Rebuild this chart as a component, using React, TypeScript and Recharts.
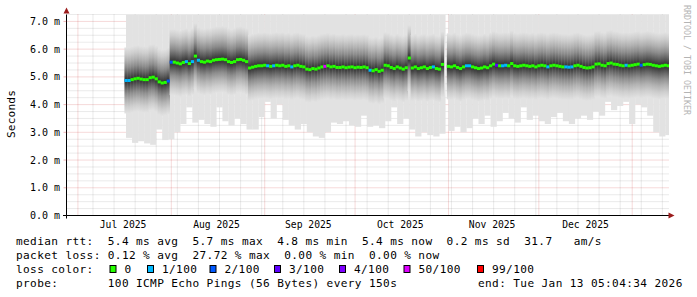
import React from "react";
import { ComposedChart, XAxis, YAxis, Scatter, ReferenceLine } from "recharts";

// SmokePing style latency graph: grey "smoke" = spread of the 100 pings,
// coloured blocks = median rtt, coloured by packet loss.
// x = days since 1 Jul 2025 00:00 (window ends Tue Jan 13 05:04:34 2026)

const FONT = "'DejaVu Sans Mono', 'Liberation Mono', monospace";

const X_FROM = -3.79;
const X_TO = 196.21;
const Y_TOP = 7.25;

const monthStarts = [0, 31, 62, 92, 123, 153, 184];
const weekStarts = [5, 12, 19, 26, 33, 40, 47, 54, 61, 68, 75, 82, 89, 96, 103, 110, 117, 124, 131, 138, 145, 152, 159, 166, 173, 180, 187, 194];
const monthTicks = [15, 46, 76.5, 107, 137.5, 168.5];
const monthLabels = ["Jul 2025", "Aug 2025", "Sep 2025", "Oct 2025", "Nov 2025", "Dec 2025"];

const yTicks = [0, 1, 2, 3, 4, 5, 6, 7];
const yMajorGrid = [1, 2, 3, 4, 5, 6, 7];
const yMinorGrid = [0.25, 0.5, 0.75, 1.25, 1.5, 1.75, 2.25, 2.5, 2.75, 3.25, 3.5, 3.75, 4.25, 4.5, 4.75, 5.25, 5.5, 5.75, 6.25, 6.5, 6.75, 7.25];

// median rtt (ms), one reading per day
const rttDays = [
  16, 17, 18, 19, 20, 21, 22, 23, 24, 25,
  26, 27, 28, 29, 30, 31, 32, 33, 34, 35,
  36, 37, 38, 39, 40, 41, 42, 43, 44, 45,
  46, 47, 48, 49, 50, 51, 52, 53, 54, 55,
  56, 57, 58, 59, 60, 61, 62, 63, 64, 65,
  66, 67, 68, 69, 70, 71, 72, 73, 74, 75,
  76, 77, 78, 79, 80, 81, 82, 83, 84, 85,
  86, 87, 88, 89, 90, 91, 92, 93, 94, 95,
  96, 97, 98, 99, 100, 101, 102, 103, 104, 105,
  106, 107, 108, 109, 110, 111, 112, 113, 114, 115,
  116, 117, 118, 119, 120, 121, 122, 123, 124, 125,
  126, 127, 128, 129, 130, 131, 132, 133, 134, 135,
  136, 137, 138, 139, 140, 141, 142, 143, 144, 145,
  146, 147, 148, 149, 150, 151, 152, 153, 154, 155,
  156, 157, 158, 159, 160, 161, 162, 163, 164, 165,
  166, 167, 168, 169, 170, 171, 172, 173, 174, 175,
  176, 177, 178, 179, 180, 181, 182, 183, 184, 185,
  186, 187, 188, 189, 190, 191, 192, 193, 194, 195,
  196,
];
const rttValues = [
  4.87, 4.87, 4.90, 4.93, 4.95, 4.92, 4.90, 4.90, 4.97, 4.99,
  4.93, 4.82, 4.78, 4.80, 4.85, 5.53, 5.53, 5.50, 5.47, 5.52,
  5.55, 5.48, 5.55, 5.75, 5.60, 5.55, 5.53, 5.57, 5.55, 5.60,
  5.62, 5.63, 5.64, 5.62, 5.55, 5.52, 5.55, 5.62, 5.63, 5.60,
  5.55, 5.32, 5.35, 5.38, 5.40, 5.40, 5.42, 5.40, 5.38, 5.40,
  5.42, 5.40, 5.42, 5.38, 5.40, 5.36, 5.40, 5.42, 5.38, 5.36,
  5.28, 5.26, 5.30, 5.28, 5.32, 5.36, 5.38, 5.40, 5.36, 5.38,
  5.34, 5.34, 5.36, 5.33, 5.35, 5.36, 5.33, 5.35, 5.34, 5.36,
  5.33, 5.24, 5.22, 5.26, 5.20, 5.24, 5.42, 5.40, 5.34, 5.30,
  5.36, 5.32, 5.28, 5.33, 5.68, 5.32, 5.36, 5.30, 5.33, 5.36,
  5.30, 5.34, 5.36, 5.30, 5.28, 5.45, null, 5.38, 5.36, 5.40,
  5.34, 5.30, 5.36, 5.40, 5.40, 5.36, 5.33, 5.30, 5.32, 5.36,
  5.33, 5.40, 5.46, 5.42, 5.40, 5.40, 5.42, 5.40, 5.48, 5.40,
  5.38, 5.40, 5.42, 5.40, 5.38, 5.40, 5.36, 5.40, 5.42, 5.40,
  5.36, 5.40, 5.42, 5.40, 5.38, 5.36, 5.36, 5.35, 5.36, 5.40,
  5.42, 5.38, 5.34, 5.32, 5.33, 5.36, 5.46, 5.47, 5.42, 5.40,
  5.48, 5.50, 5.46, 5.45, 5.42, 5.40, 5.42, 5.40, 5.42, 5.44,
  5.46, 5.42, 5.44, 5.46, 5.45, 5.42, 5.40, 5.38, 5.40, 5.42,
  5.40,
];

// days on which some pings were lost, and the loss bucket (out of 100)
const lossDays = [16, 17, 30, 31, 36, 38, 40, 63, 65, 71, 82, 97, 118, 129, 130, 139, 141, 142, 156, 162, 163, 164, 182, 187];
const lossLevels = [1, 1, 2, 2, 1, 1, 1, 1, 1, 1, 50, 1, 1, 1, 1, 3, 1, 1, 1, 1, 1, 1, 1, 2];

const lossSteps = [0, 1, 2, 3, 4, 50, 99];
const lossNames = ["0", "1/100", "2/100", "3/100", "4/100", "50/100", "99/100"];
const lossColors = ["#26ff00", "#00b8ff", "#0059ff", "#5e00ff", "#7e00ff", "#dd00ff", "#ff0000"];

// fastest ping of the 100 (ms) per two-day column, bottom edge of the smoke;
// the slowest pings run off the top of the scale in every column
const smokeDays = [
  17, 19, 21, 23, 25, 27, 29, 31,
  33, 35, 37, 39, 41, 43, 45, 47, 49, 51, 53, 55, 57,
  59, 61, 63, 65, 67, 69, 71, 73, 75, 77, 79, 81, 83, 85, 87, 89,
  91, 93, 95, 97, 99, 101, 103, 105, 107, 109, 111, 113, 115, 117, 119, 121,
  124, 126, 128, 130, 132, 134, 136, 138, 140, 142, 144, 146, 148, 150, 152, 154,
  156, 158, 160, 162, 164, 166, 168, 170, 172, 174, 176, 178, 180, 182, 184, 186,
  188, 190, 192, 194, 196,
];
const smokeMin = [
  2.80, 2.62, 2.68, 2.60, 2.55, 3.10, 2.72, 2.75,
  3.0, 3.3, 3.9, 3.35, 3.45, 3.3, 3.2, 3.9, 3.4, 3.25, 3.5, 3.3, 3.1,
  3.1, 3.55, 4.1, 3.5, 4.0, 3.45, 3.25, 3.1, 3.3, 3.0, 2.85, 2.8, 3.0, 3.35, 3.3, 3.4,
  3.25, 3.2, 3.6, 3.2, 3.25, 3.15, 3.4, 3.9, 3.3, 3.5, 3.1, 2.85, 3.0, 2.9, 2.85, 2.95,
  3.05, 3.2, 3.0, 3.15, 3.5, 3.3, 3.6, 3.2, 3.4, 3.7, 3.5, 3.35, 3.9, 3.45, 3.6, 3.4,
  3.3, 3.55, 3.7, 3.4, 3.3, 3.5, 3.6, 3.45, 3.75, 3.6, 4.1, 3.8, 3.95, 4.1, 3.3, 4.0,
  3.9, 3.6, 3.0, 2.85, 2.9,
];

const medianRows = rttDays
  .map((day, i) => {
    const k = lossDays.indexOf(day);
    return { day, rtt: rttValues[i], loss: k >= 0 ? lossLevels[k] : 0 };
  })
  .filter((r) => r.rtt != null);

const smokeRows = smokeDays.map((day, i) => ({ day, fastest: smokeMin[i] }));

function lossColor(loss: number): string {
  const k = lossSteps.indexOf(loss);
  return lossColors[k >= 0 ? k : 0];
}

// plot frame (for clipping the smoke columns that run off the top)
const PLOT = { x: 66.5, y: 14.5, w: 602.5, h: 201 };

// light smoke: a column from the fastest ping up past the top of the scale
const SmokeColumn = (props: any) => {
  const { cx, cy } = props;
  if (cx == null || cy == null) return null;
  return <rect x={cx - 3.1} y={PLOT.y} width={6.2} height={Math.max(0, cy - PLOT.y)} fill="#e2e2e2" />;
};

// dense part of the smoke: a shaded column centred on each day's median
const SmokeCore = (props: any) => {
  const { cx, cy } = props;
  if (cx == null || cy == null) return null;
  return <rect x={cx - 1.7} y={cy - 33} width={3.4} height={66} fill="url(#smokeCore)" />;
};

const MedianBlock = (props: any) => {
  const { cx, cy, payload } = props;
  if (cx == null || cy == null) return null;
  return <rect x={cx - 1.6} y={cy - 1.5} width={3.2} height={3} fill={lossColor(payload.loss)} />;
};

const MAJOR = "rgba(200,30,30,0.33)";
const MINOR = "rgba(120,120,120,0.3)";

const legendBoxX = [109.5, 147, 209.5, 274, 339, 403.5, 477];

export default function App() {
  const txt = { fontFamily: FONT, fontSize: 11.1, letterSpacing: 0.38, fill: "#000", whiteSpace: "pre" as const };
  return (
    <div style={{ position: "absolute", left: 0, top: 0, width: 697, height: 297, background: "#fff", fontFamily: FONT }}>
      <ComposedChart width={697} height={236} margin={{ top: 14.5, right: 28, bottom: 0, left: 6.5 }}>
        <defs>
          <linearGradient id="smokeCore" x1="0" y1="0" x2="0" y2="1">
            <stop offset="0" stopColor="#e2e2e2" />
            <stop offset="0.1" stopColor="#cdcdcd" />
            <stop offset="0.2" stopColor="#b0b0b0" />
            <stop offset="0.3" stopColor="#8c8c8c" />
            <stop offset="0.38" stopColor="#666666" />
            <stop offset="0.45" stopColor="#444444" />
            <stop offset="0.5" stopColor="#2e2e2e" />
            <stop offset="0.55" stopColor="#444444" />
            <stop offset="0.62" stopColor="#686868" />
            <stop offset="0.7" stopColor="#8e8e8e" />
            <stop offset="0.8" stopColor="#b2b2b2" />
            <stop offset="0.9" stopColor="#cecece" />
            <stop offset="1" stopColor="#e2e2e2" />
          </linearGradient>
        </defs>
        <XAxis
          dataKey="day"
          type="number"
          domain={[X_FROM, X_TO]}
          allowDataOverflow
          ticks={monthTicks}
          tickFormatter={(v: number) => monthLabels[monthTicks.indexOf(v)] ?? ""}
          tickLine={false}
          tickSize={0}
          tickMargin={6}
          height={20.5}
          axisLine={{ stroke: "#000" }}
          tick={{ fill: "#000", fontSize: 9.7, fontFamily: FONT }}
          interval={0}
        />
        <YAxis
          type="number"
          domain={[0, Y_TOP]}
          allowDataOverflow
          ticks={yTicks}
          tickFormatter={(v: number) => `${v.toFixed(1)} m`}
          width={60}
          tickSize={3}
          tickMargin={3.5}
          tickLine={{ stroke: MAJOR }}
          axisLine={{ stroke: "#000" }}
          tick={{ fill: "#000", fontSize: 10, fontFamily: FONT }}
          interval={0}
        />

        <Scatter data={smokeRows} dataKey="fastest" shape={SmokeColumn} isAnimationActive={false} />
        <Scatter data={medianRows} dataKey="rtt" shape={SmokeCore} isAnimationActive={false} />

        {weekStarts.map((d) => (
          <ReferenceLine key={`w${d}`} x={d} stroke={MINOR} strokeDasharray="1 1" />
        ))}
        {yMinorGrid.map((v) => (
          <ReferenceLine key={`ym${v}`} y={v} stroke={MINOR} strokeDasharray="1 1" />
        ))}
        {monthStarts.map((d) => (
          <ReferenceLine key={`m${d}`} x={d} stroke={MAJOR} strokeDasharray="1 1" />
        ))}
        {yMajorGrid.map((v) => (
          <ReferenceLine key={`yM${v}`} y={v} stroke={MAJOR} strokeDasharray="1 1" />
        ))}

        <Scatter data={medianRows} dataKey="rtt" shape={MedianBlock} isAnimationActive={false} />
      </ComposedChart>

      <svg width={697} height={297} style={{ position: "absolute", left: 0, top: 0, pointerEvents: "none" }}>
        <line x1={63} y1={215.5} x2={66.5} y2={215.5} stroke="#000" />
        <line x1={66.5} y1={215.5} x2={66.5} y2={218.5} stroke="#000" />
        <polygon points="63.5,13.5 69.5,13.5 66.5,7.5" fill="#9b1c1c" />
        <polygon points="668.5,212.5 668.5,218.5 674.5,215.5" fill="#9b1c1c" />

        <text transform="translate(15,114) rotate(-90)" textAnchor="middle" fontFamily={FONT} fontSize={11.1} letterSpacing={0.2} fill="#000">
          Seconds
        </text>
        <text transform="translate(683.5,5) rotate(90)" fontFamily={FONT} fontSize={8.3} fill="#b4b4b4">
          RRDTOOL / TOBI OETIKER
        </text>

        <text x={16} y={244.8} style={txt} xmlSpace="preserve">
          {"median rtt:  5.4 ms avg  5.7 ms max  4.8 ms min  5.4 ms now  0.2 ms sd  31.7   am/s"}
        </text>
        <text x={16} y={258.7} style={txt} xmlSpace="preserve">
          {"packet loss: 0.12 % avg  27.72 % max  0.00 % min  0.00 % now"}
        </text>
        <text x={16} y={272.6} style={txt} xmlSpace="preserve">
          {"loss color:"}
        </text>
        {lossNames.map((name, i) => (
          <g key={name}>
            <rect x={legendBoxX[i] + 0.5} y={265.5} width={6} height={7} fill={lossColors[i]} stroke="#000" strokeWidth={1} />
            <text x={legendBoxX[i] + 15} y={272.6} style={txt}>
              {name}
            </text>
          </g>
        ))}
        <text x={16} y={286.5} style={txt} xmlSpace="preserve">
          {"probe:       100 ICMP Echo Pings (56 Bytes) every 150s"}
        </text>
        <text x={478} y={286.5} style={txt} xmlSpace="preserve">
          {"end: Tue Jan 13 05:04:34 2026"}
        </text>
      </svg>
    </div>
  );
}
